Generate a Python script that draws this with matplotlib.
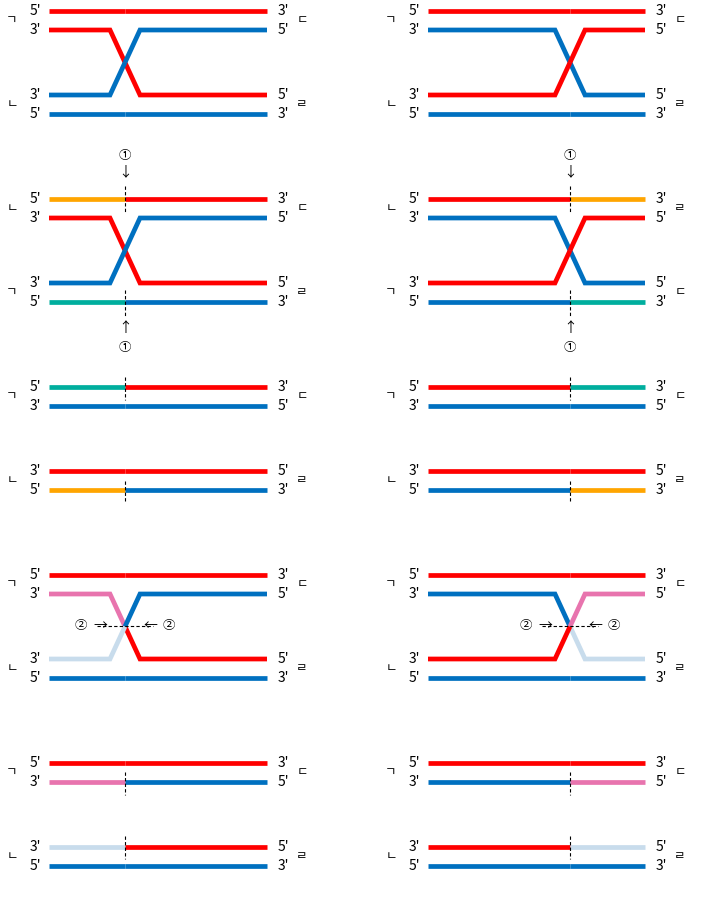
import matplotlib
matplotlib.use("Agg")
import matplotlib.pyplot as plt

R, B, O, T, P, L = "#ff0000", "#0070c0", "#ffa500", "#00ae9e", "#e874ae", "#c8dcec"
FONT = ["Noto Sans CJK KR", "DejaVu Sans"]

fig = plt.figure(figsize=(7.01, 9.13), dpi=100)
ax = fig.add_axes([0, 0, 1, 1])
ax.set_xlim(0, 701); ax.set_ylim(913, 0); ax.axis("off")

LW = 3.4
def seg(xs, ys, c):
    ax.plot(xs, ys, color=c, lw=LW, solid_capstyle="butt", solid_joinstyle="miter")

def lab(x, y, s, size=10):
    ax.text(x, y, s, ha="center", va="center", fontsize=size, family=FONT)

# panel geometry: (x_left, x_cross_start, x_mid, x_cross_end, x_right)
PX = [(49, 110, 125, 140, 267), (428, 555, 570, 585, 645)]

def ends(px, y, l, r, jl, jr, jy):
    lab(px[0] - 14, y, l); lab(px[4] + 16, y, r)

def jamo(px, y, jl, jr):
    lab(px[0] - 37, y, jl, 9); lab(px[4] + 35, y, jr, 9)

def cross4(px, ys, top_l, top_r, bot_l, bot_r, side):
    # ys: 4 strand y positions
    x0, xa, xm, xb, x1 = px
    y0, y1, y2, y3 = ys
    ym = (y1 + y2) / 2
    seg([x0, x1], [y0, y0], top_l[0]) if top_l[0] == top_l[1] else (seg([x0, xm], [y0, y0], top_l[0]), seg([xm, x1], [y0, y0], top_l[1]))
    seg([x0, x1], [y3, y3], bot_l[0]) if bot_l[0] == bot_l[1] else (seg([x0, xm], [y3, y3], bot_l[0]), seg([xm, x1], [y3, y3], bot_l[1]))

# strand specs per crossover panel: (upper-left colour, lower-left colour after crossing)
def crossover(px, ys, c_ul, c_ul2, c_ll, c_ll2):
    # strand from upper-left (y1) goes to lower-right (y2); colour c_ul before mid, c_ul2 after
    x0, xa, xm, xb, x1 = px
    y1, y2 = ys[1], ys[2]
    ym = (y1 + y2) / 2
    seg([x0, xa, xm], [y1, y1, ym], c_ul); seg([xm, xb, x1], [ym, y2, y2], c_ul2)
    seg([x0, xa, xm], [y2, y2, ym], c_ll); seg([xm, xb, x1], [ym, y1, y1], c_ll2)

def straight(px, y, c1, c2):
    seg([px[0], px[2]], [y, y], c1); seg([px[2], px[4]], [y, y], c2)

def dash_v(x, y0, y1):
    ax.plot([x, x], [y0, y1], color="black", lw=0.8, ls=(0, (3, 2)))

primes_4 = ["5'", "3'", "3'", "5'"]
primes_4r = ["3'", "5'", "5'", "3'"]

# ---- Panel A
YA = [11, 30, 95, 114]
for i, px in enumerate(PX):
    straight(px, YA[0], R, R); straight(px, YA[3], B, B)
    if i == 0: crossover(px, YA, R, R, B, B)
    else: crossover(px, YA, B, B, R, R)
    for y, l, r in zip(YA, primes_4, primes_4r): ends(px, y, l, r, 0, 0, 0)
    jamo(px, 20, "ㄱ", "ㄷ"); jamo(px, 105, "ㄴ", "ㄹ")

# ---- Panel B
YB = [199, 218, 283, 302]
for i, px in enumerate(PX):
    if i == 0:
        straight(px, YB[0], O, R); straight(px, YB[3], T, B); crossover(px, YB, R, R, B, B)
        jamo(px, 208, "ㄴ", "ㄷ"); jamo(px, 292, "ㄱ", "ㄹ")
    else:
        straight(px, YB[0], R, O); straight(px, YB[3], B, T); crossover(px, YB, B, B, R, R)
        jamo(px, 208, "ㄴ", "ㄹ"); jamo(px, 292, "ㄱ", "ㄷ")
    for y, l, r in zip(YB, primes_4, primes_4r): ends(px, y, l, r, 0, 0, 0)
    xm = px[2]
    dash_v(xm, 186, 212); dash_v(xm, 290, 316)
    lab(xm, 155, "①", 9); lab(xm, 172, "↓", 10)
    lab(xm, 328, "↑", 10); lab(xm, 347, "①", 9)

# ---- Panel C / D
for i, px in enumerate(PX):
    xm = px[2]
    if i == 0:
        straight(px, 387, T, R); straight(px, 490, O, B)
    else:
        straight(px, 387, R, T); straight(px, 490, B, O)
    straight(px, 406, B, B); straight(px, 471, R, R)
    ends(px, 387, "5'", "3'", 0, 0, 0); ends(px, 406, "3'", "5'", 0, 0, 0)
    ends(px, 471, "3'", "5'", 0, 0, 0); ends(px, 490, "5'", "3'", 0, 0, 0)
    jamo(px, 396, "ㄱ", "ㄷ"); jamo(px, 480, "ㄴ", "ㄹ")
    dash_v(xm, 377, 400); dash_v(xm, 481, 503)

# ---- Panel E
YE = [575, 594, 659, 678]
for i, px in enumerate(PX):
    straight(px, YE[0], R, R); straight(px, YE[3], B, B)
    if i == 0: crossover(px, YE, P, R, L, B)
    else: crossover(px, YE, B, L, R, P)
    for y, l, r in zip(YE, primes_4, primes_4r): ends(px, y, l, r, 0, 0, 0)
    jamo(px, 584, "ㄱ", "ㄷ"); jamo(px, 668, "ㄴ", "ㄹ")
    xm = px[2]
    ax.plot([xm - 28, xm + 28], [626, 626], color="black", lw=0.8, ls=(0, (3, 2)))
    lab(xm - 44, 626, "②", 9); lab(xm - 25, 626, "→", 10)
    lab(xm + 25, 626, "←", 10); lab(xm + 44, 626, "②", 9)

# ---- Panel F
for i, px in enumerate(PX):
    xm = px[2]
    straight(px, 763, R, R); straight(px, 866, B, B)
    if i == 0:
        straight(px, 782, P, B); straight(px, 847, L, R)
    else:
        straight(px, 782, B, P); straight(px, 847, R, L)
    ends(px, 763, "5'", "3'", 0, 0, 0); ends(px, 782, "3'", "5'", 0, 0, 0)
    ends(px, 847, "3'", "5'", 0, 0, 0); ends(px, 866, "5'", "3'", 0, 0, 0)
    jamo(px, 772, "ㄱ", "ㄷ"); jamo(px, 856, "ㄴ", "ㄹ")
    dash_v(xm, 772, 795); dash_v(xm, 836, 859)

fig.savefig("out.png", dpi=100)
